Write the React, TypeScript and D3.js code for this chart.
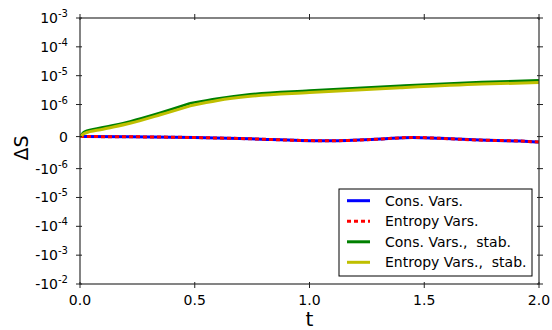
import React from "react";
import * as d3 from "d3";

const tCons = [0, 0.218, 0.5, 0.741, 0.959, 1.09, 1.307, 1.45, 1.568, 1.743, 1.917, 2.0];
const consVars = [0, -0.6e-8, -3e-8, -6.9e-8, -1.19e-7, -1.31e-7, -7.8e-8, -2.5e-8, -5.6e-8, -1.09e-7, -1.4e-7, -1.72e-7];
const entropyVars = consVars;

const tStab = [0, 0.02, 0.1, 0.218, 0.35, 0.48, 0.6, 0.741, 1.0, 1.394, 1.75, 2.0];
const consStab = [0, 1.56e-7, 2.87e-7, 4.74e-7, 7.42e-7, 1.1e-6, 1.61e-6, 2.25e-6, 3.04e-6, 4.47e-6, 6.0e-6, 6.9e-6];
const entropyStab = [0, 1.0e-7, 2.3e-7, 4.15e-7, 6.8e-7, 0.96e-6, 1.38e-6, 1.92e-6, 2.6e-6, 3.82e-6, 5.1e-6, 5.8e-6];
const KINK_T = 0.48;

const xTicks = [0, 0.5, 1.0, 1.5, 2.0];
const yTickValues = [1e-3, 1e-4, 1e-5, 1e-6, 0, -1e-6, -1e-5, -1e-4, -1e-3, -1e-2];
const yTickExps = ["-3", "-4", "-5", "-6", "", "-6", "-5", "-4", "-3", "-2"];
const yTickSigns = ["", "", "", "", "0", "-", "-", "-", "-", "-"];

const legendLabels = ["Cons. Vars.", "Entropy Vars.", "Cons. Vars.,  stab.", "Entropy Vars.,  stab."];

const TH = 1e-6;
const LS = 1 / (1 - 1 / 10);
function sl(v: number): number {
  const a = Math.abs(v);
  return a <= TH ? (v / TH) * LS : Math.sign(v) * (LS + Math.log10(a / TH));
}

const L = 80, R = 539, T = 18, B = 284;
const FONT = "DejaVu Sans, sans-serif";

export default function App() {
  const x = d3.scaleLinear().domain([0, 2]).range([L, R]);
  const yLin = d3.scaleLinear().domain([sl(-1e-2), sl(1e-3)]).range([B, T]);
  const y = (v: number) => yLin(sl(v));

  const mkPts = (ts: number[], vs: number[]) =>
    d3
      .line<[number, number]>()
      .x((p) => x(p[0]))
      .y((p) => y(p[1]))
      .curve(d3.curveMonotoneX)(ts.map((t, i) => [t, vs[i]] as [number, number])) as string;

  const mk = (ts: number[], vs: number[]) => mkPts(ts, vs);
  const mkKink = (ts: number[], vs: number[]) => {
    const k = ts.indexOf(KINK_T);
    return mkPts(ts.slice(0, k + 1), vs.slice(0, k + 1)) + mkPts(ts.slice(k), vs.slice(k));
  };

  const series = [
    { d: mk(tCons, consVars), color: "#0000ff", w: 3, dash: undefined as string | undefined },
    { d: mk(tCons, entropyVars), color: "#ff0000", w: 3, dash: "4,3" },
    { d: mkKink(tStab, consStab), color: "#008000", w: 2.6, dash: undefined },
    { d: mkKink(tStab, entropyStab), color: "#bfbf00", w: 3, dash: undefined },
  ];

  const legendX = 339, legendY = 189, legendW = 193, legendH = 87;
  const rowY = [200.7, 221.3, 241.8, 262.3];

  return (
    <svg
      width={552}
      height={330}
      style={{ position: "absolute", left: 0, top: 0, background: "#fff" }}
      fontFamily={FONT}
    >
      <defs>
        <clipPath id="plot">
          <rect x={L} y={T} width={R - L} height={B - T} />
        </clipPath>
      </defs>
      <rect x={0} y={0} width={552} height={330} fill="#fff" />
      <g clipPath="url(#plot)">
        {series.map((s, i) => (
          <path
            key={i}
            d={s.d}
            fill="none"
            stroke={s.color}
            strokeWidth={s.w}
            strokeDasharray={s.dash}
            strokeLinejoin="round"
          />
        ))}
      </g>
      {/* frame */}
      <rect x={L} y={T} width={R - L} height={B - T} fill="none" stroke="#333" strokeWidth={1.2} />
      {/* y ticks */}
      {yTickValues.map((v, i) => {
        const yy = y(v);
        return (
          <g key={"y" + i}>
            <line x1={L - 4} x2={L + 2} y1={yy} y2={yy} stroke="#222" strokeWidth={1} />
            <line x1={R - 2} x2={R + 4} y1={yy} y2={yy} stroke="#222" strokeWidth={1} />
            {yTickExps[i] === "" ? (
              <text x={68} y={yy + 5} fontSize={14} textAnchor="end" fill="#000">
                0
              </text>
            ) : (
              <text x={68} y={yy + 5} fontSize={14} textAnchor="end" fill="#000">
                {yTickSigns[i] + "10"}
                <tspan fontSize={10} dy={-6}>
                  {yTickExps[i]}
                </tspan>
              </text>
            )}
          </g>
        );
      })}
      {/* x ticks */}
      {xTicks.map((v, i) => (
        <g key={"x" + i}>
          <line x1={x(v)} x2={x(v)} y1={B - 2} y2={B + 4} stroke="#222" strokeWidth={1} />
          <line x1={x(v)} x2={x(v)} y1={T - 4} y2={T + 2} stroke="#222" strokeWidth={1} />
          <text x={x(v)} y={B + 21} fontSize={14} textAnchor="middle" fill="#000">
            {v.toFixed(1)}
          </text>
        </g>
      ))}
      <text x={(L + R) / 2} y={326} fontSize={20} textAnchor="middle" fill="#000">
        t
      </text>
      <text
        transform={`translate(28,${(T + B) / 2 - 3}) rotate(-90)`}
        fontSize={19}
        textAnchor="middle"
        fill="#000"
      >
        ΔS
      </text>
      {/* legend */}
      <rect x={legendX} y={legendY} width={legendW} height={legendH} fill="#fff" stroke="#000" strokeWidth={1} />
      {legendLabels.map((lab, i) => (
        <g key={"l" + i}>
          <line
            x1={347}
            x2={370}
            y1={rowY[i]}
            y2={rowY[i]}
            stroke={series[i].color}
            strokeWidth={3}
            strokeDasharray={series[i].dash}
          />
          <text x={385} y={rowY[i] + 5} fontSize={14} fill="#000" style={{ whiteSpace: "pre" }}>
            {lab}
          </text>
        </g>
      ))}
    </svg>
  );
}
